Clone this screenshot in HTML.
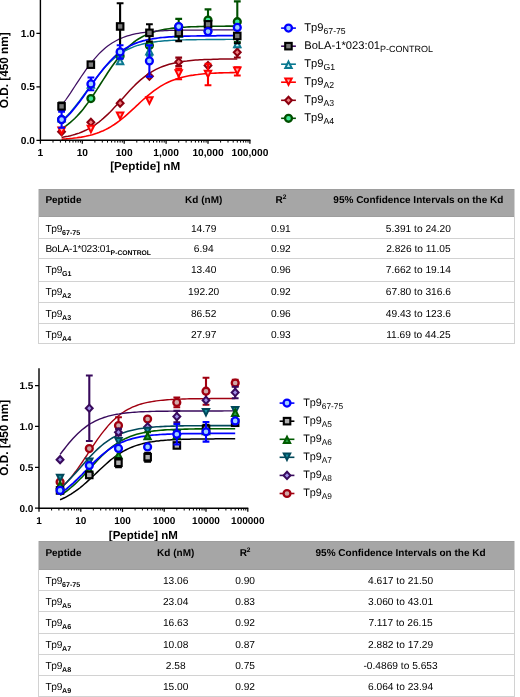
<!DOCTYPE html>
<html lang="en"><head><meta charset="utf-8"><title>Peptide binding</title>
<style>
html,body{margin:0;padding:0;background:#fff}
body{width:520px;height:697px;overflow:hidden;position:relative;text-rendering:geometricPrecision;font-family:"Liberation Sans",sans-serif;color:#000}
#fig{position:absolute;left:0;top:0;width:520px;height:697px;overflow:hidden;will-change:transform}
#fig svg{position:absolute;left:0;top:0;display:block}
.tbl{position:absolute;box-sizing:border-box}
.tbl .hd{position:absolute;left:0;top:0;right:0;background:#a6a6a6;box-shadow:inset 0 1px #9e9e9e,inset 0 -1px #9e9e9e}
.tbl .ln{position:absolute;left:0;right:0;height:1px;background:#d2d2d2}
.tbl .vl{position:absolute;top:0;bottom:0;width:1px;background:#d2d2d2}
.tbl .c{position:absolute;font-size:10.2px;line-height:14px;height:14px;white-space:nowrap}
.tbl .c.b{font-weight:bold;font-size:10px}
.tbl sub{font-size:7.1px;font-weight:bold;vertical-align:baseline;position:relative;top:3.1px;line-height:0}
.tbl sub.n{font-size:6.8px}
.tbl .c.p{letter-spacing:-0.3px}
.tbl .c.p sub{letter-spacing:0}
.tbl sup{font-size:6.6px;vertical-align:baseline;position:relative;top:-3.6px;line-height:0}
</style></head><body>
<div id="fig">
<svg width="520" height="697" viewBox="0 0 520 697" font-family="'Liberation Sans', sans-serif" fill="#000">
<g id="chart1"><polyline points="61.6,128.6 63.8,127.2 66.0,125.8 68.2,124.2 70.4,122.4 72.5,120.5 74.7,118.5 76.9,116.3 79.1,113.9 81.3,111.4 83.5,108.7 85.7,105.8 87.9,102.9 90.1,99.8 92.3,96.6 94.5,93.3 96.7,89.9 98.9,86.5 101.1,83.0 103.3,79.6 105.5,76.2 107.7,72.8 109.9,69.5 112.1,66.3 114.3,63.2 116.5,60.2 118.7,57.4 120.9,54.8 123.1,52.2 125.3,49.9 127.5,47.7 129.7,45.6 131.9,43.8 134.1,42.0 136.2,40.4 138.4,39.0 140.6,37.7 142.8,36.5 145.0,35.4 147.2,34.4 149.4,33.5 151.6,32.7 153.8,32.0 156.0,31.3 158.2,30.8 160.4,30.2 162.6,29.8 164.8,29.4 167.0,29.0 169.2,28.7 171.4,28.4 173.6,28.1 175.8,27.9 178.0,27.7 180.2,27.5 182.4,27.3 184.6,27.2 186.8,27.0 189.0,26.9 191.2,26.8 193.4,26.7 195.6,26.7 197.7,26.6 199.9,26.5 202.1,26.5 204.3,26.4 206.5,26.4 208.7,26.3 210.9,26.3 213.1,26.3 215.3,26.2 217.5,26.2 219.7,26.2 221.9,26.2 224.1,26.2 226.3,26.1 228.5,26.1 230.7,26.1 232.9,26.1 235.1,26.1 237.3,26.1" fill="none" stroke="#005000" stroke-width="1.6"/>
<polyline points="61.6,137.4 63.8,137.0 66.0,136.6 68.2,136.2 70.4,135.7 72.5,135.1 74.7,134.5 76.9,133.8 79.1,133.1 81.3,132.2 83.5,131.3 85.7,130.3 87.9,129.2 90.1,128.0 92.3,126.7 94.5,125.3 96.7,123.7 98.9,122.1 101.1,120.3 103.3,118.4 105.5,116.4 107.7,114.4 109.9,112.2 112.1,109.9 114.3,107.6 116.5,105.2 118.7,102.8 120.9,100.3 123.1,97.9 125.3,95.4 127.5,93.0 129.7,90.6 131.9,88.3 134.1,86.1 136.2,83.9 138.4,81.9 140.6,79.9 142.8,78.1 145.0,76.4 147.2,74.8 149.4,73.3 151.6,71.9 153.8,70.6 156.0,69.4 158.2,68.4 160.4,67.4 162.6,66.5 164.8,65.7 167.0,65.0 169.2,64.3 171.4,63.7 173.6,63.2 175.8,62.7 178.0,62.3 180.2,61.9 182.4,61.6 184.6,61.2 186.8,61.0 189.0,60.7 191.2,60.5 193.4,60.3 195.6,60.1 197.7,60.0 199.9,59.8 202.1,59.7 204.3,59.6 206.5,59.5 208.7,59.4 210.9,59.4 213.1,59.3 215.3,59.2 217.5,59.2 219.7,59.1 221.9,59.1 224.1,59.1 226.3,59.0 228.5,59.0 230.7,59.0 232.9,58.9 235.1,58.9 237.3,58.9" fill="none" stroke="#8c0010" stroke-width="1.5"/>
<polyline points="61.6,139.2 63.8,139.0 66.0,138.9 68.2,138.7 70.4,138.5 72.5,138.3 74.7,138.0 76.9,137.8 79.1,137.4 81.3,137.1 83.5,136.7 85.7,136.3 87.9,135.8 90.1,135.3 92.3,134.7 94.5,134.0 96.7,133.3 98.9,132.5 101.1,131.6 103.3,130.7 105.5,129.6 107.7,128.5 109.9,127.3 112.1,125.9 114.3,124.5 116.5,123.0 118.7,121.4 120.9,119.7 123.1,118.0 125.3,116.1 127.5,114.2 129.7,112.2 131.9,110.2 134.1,108.2 136.2,106.1 138.4,104.1 140.6,102.0 142.8,100.0 145.0,98.1 147.2,96.2 149.4,94.3 151.6,92.6 153.8,90.9 156.0,89.3 158.2,87.8 160.4,86.4 162.6,85.1 164.8,83.9 167.0,82.8 169.2,81.7 171.4,80.8 173.6,79.9 175.8,79.2 178.0,78.4 180.2,77.8 182.4,77.2 184.6,76.7 186.8,76.2 189.0,75.8 191.2,75.4 193.4,75.1 195.6,74.7 197.7,74.5 199.9,74.2 202.1,74.0 204.3,73.8 206.5,73.6 208.7,73.5 210.9,73.3 213.1,73.2 215.3,73.1 217.5,73.0 219.7,72.9 221.9,72.9 224.1,72.8 226.3,72.7 228.5,72.7 230.7,72.6 232.9,72.6 235.1,72.5 237.3,72.5" fill="none" stroke="#ff0000" stroke-width="1.6"/>
<polyline points="61.6,120.8 63.8,118.9 66.0,116.8 68.2,114.5 70.4,112.1 72.5,109.6 74.7,107.0 76.9,104.2 79.1,101.4 81.3,98.5 83.5,95.5 85.7,92.5 87.9,89.4 90.1,86.4 92.3,83.4 94.5,80.4 96.7,77.5 98.9,74.7 101.1,72.0 103.3,69.4 105.5,66.9 107.7,64.5 109.9,62.3 112.1,60.3 114.3,58.3 116.5,56.6 118.7,54.9 120.9,53.4 123.1,52.0 125.3,50.7 127.5,49.6 129.7,48.5 131.9,47.6 134.1,46.7 136.2,45.9 138.4,45.2 140.6,44.6 142.8,44.0 145.0,43.5 147.2,43.1 149.4,42.7 151.6,42.3 153.8,42.0 156.0,41.7 158.2,41.4 160.4,41.2 162.6,41.0 164.8,40.8 167.0,40.7 169.2,40.5 171.4,40.4 173.6,40.3 175.8,40.2 178.0,40.1 180.2,40.0 182.4,39.9 184.6,39.9 186.8,39.8 189.0,39.8 191.2,39.7 193.4,39.7 195.6,39.7 197.7,39.6 199.9,39.6 202.1,39.6 204.3,39.6 206.5,39.5 208.7,39.5 210.9,39.5 213.1,39.5 215.3,39.5 217.5,39.5 219.7,39.5 221.9,39.5 224.1,39.5 226.3,39.4 228.5,39.4 230.7,39.4 232.9,39.4 235.1,39.4 237.3,39.4" fill="none" stroke="#0a7890" stroke-width="1.4"/>
<polyline points="61.6,105.5 63.8,102.5 66.0,99.5 68.2,96.3 70.4,93.1 72.5,89.8 74.7,86.5 76.9,83.1 79.1,79.8 81.3,76.5 83.5,73.3 85.7,70.2 87.9,67.1 90.1,64.2 92.3,61.4 94.5,58.8 96.7,56.3 98.9,53.9 101.1,51.7 103.3,49.7 105.5,47.8 107.7,46.1 109.9,44.5 112.1,43.0 114.3,41.7 116.5,40.5 118.7,39.4 120.9,38.4 123.1,37.5 125.3,36.7 127.5,35.9 129.7,35.3 131.9,34.7 134.1,34.2 136.2,33.7 138.4,33.3 140.6,32.9 142.8,32.6 145.0,32.3 147.2,32.0 149.4,31.8 151.6,31.5 153.8,31.4 156.0,31.2 158.2,31.0 160.4,30.9 162.6,30.8 164.8,30.7 167.0,30.6 169.2,30.5 171.4,30.4 173.6,30.4 175.8,30.3 178.0,30.3 180.2,30.2 182.4,30.2 184.6,30.2 186.8,30.1 189.0,30.1 191.2,30.1 193.4,30.0 195.6,30.0 197.7,30.0 199.9,30.0 202.1,30.0 204.3,30.0 206.5,30.0 208.7,29.9 210.9,29.9 213.1,29.9 215.3,29.9 217.5,29.9 219.7,29.9 221.9,29.9 224.1,29.9 226.3,29.9 228.5,29.9 230.7,29.9 232.9,29.9 235.1,29.9 237.3,29.9" fill="none" stroke="#3f0f63" stroke-width="1.25"/>
<polyline points="61.6,121.7 63.8,119.8 66.0,117.7 68.2,115.5 70.4,113.1 72.5,110.6 74.7,108.0 76.9,105.2 79.1,102.4 81.3,99.4 83.5,96.4 85.7,93.3 87.9,90.1 90.1,87.0 92.3,83.8 94.5,80.7 96.7,77.6 98.9,74.6 101.1,71.7 103.3,68.9 105.5,66.3 107.7,63.7 109.9,61.3 112.1,59.0 114.3,56.9 116.5,54.9 118.7,53.1 120.9,51.4 123.1,49.9 125.3,48.5 127.5,47.2 129.7,46.0 131.9,44.9 134.1,43.9 136.2,43.1 138.4,42.3 140.6,41.6 142.8,40.9 145.0,40.4 147.2,39.8 149.4,39.4 151.6,39.0 153.8,38.6 156.0,38.3 158.2,38.0 160.4,37.7 162.6,37.5 164.8,37.3 167.0,37.1 169.2,36.9 171.4,36.8 173.6,36.7 175.8,36.6 178.0,36.5 180.2,36.4 182.4,36.3 184.6,36.2 186.8,36.1 189.0,36.1 191.2,36.0 193.4,36.0 195.6,36.0 197.7,35.9 199.9,35.9 202.1,35.9 204.3,35.8 206.5,35.8 208.7,35.8 210.9,35.8 213.1,35.8 215.3,35.8 217.5,35.7 219.7,35.7 221.9,35.7 224.1,35.7 226.3,35.7 228.5,35.7 230.7,35.7 232.9,35.7 235.1,35.7 237.3,35.7" fill="none" stroke="#0000ff" stroke-width="1.7"/>
<g><path d="M178.7 18.9V34.9M175.3 18.9H182.1M175.3 34.9H182.1" stroke="#005000" stroke-width="2.1" fill="none"/><path d="M208.0 9.4V30.8M204.6 9.4H211.4M204.6 30.8H211.4" stroke="#005000" stroke-width="2.1" fill="none"/><path d="M237.3 1.4V42.1M233.9 1.4H240.7M233.9 42.1H240.7" stroke="#005000" stroke-width="2.1" fill="none"/><circle cx="61.6" cy="119.6" r="3.45" fill="#40e898" stroke="#005000" stroke-width="2.3"/><circle cx="90.9" cy="98.6" r="3.45" fill="#40e898" stroke="#005000" stroke-width="2.3"/><circle cx="120.1" cy="56.0" r="3.45" fill="#40e898" stroke="#005000" stroke-width="2.3"/><circle cx="149.4" cy="45.6" r="3.45" fill="#40e898" stroke="#005000" stroke-width="2.3"/><circle cx="178.7" cy="26.9" r="3.45" fill="#40e898" stroke="#005000" stroke-width="2.3"/><circle cx="208.0" cy="20.1" r="3.45" fill="#40e898" stroke="#005000" stroke-width="2.3"/><circle cx="237.3" cy="21.7" r="3.45" fill="#40e898" stroke="#005000" stroke-width="2.3"/></g>
<g><path d="M178.7 57.6V66.1M175.3 57.6H182.1M175.3 66.1H182.1" stroke="#8c0010" stroke-width="2.1" fill="none"/><path d="M237.3 47.2V57.5M233.9 47.2H240.7M233.9 57.5H240.7" stroke="#8c0010" stroke-width="2.1" fill="none"/><path d="M61.6 128.1 L65.0 131.7 L61.6 135.4 L58.1 131.7 Z" fill="#f08080" stroke="#8c0010" stroke-width="2.0" stroke-linejoin="miter" stroke-miterlimit="10"/><path d="M90.9 118.7 L94.3 122.3 L90.9 126.0 L87.4 122.3 Z" fill="#f08080" stroke="#8c0010" stroke-width="2.0" stroke-linejoin="miter" stroke-miterlimit="10"/><path d="M120.1 99.5 L123.6 103.2 L120.1 106.8 L116.7 103.2 Z" fill="#f08080" stroke="#8c0010" stroke-width="2.0" stroke-linejoin="miter" stroke-miterlimit="10"/><path d="M149.4 72.6 L152.9 76.2 L149.4 79.9 L146.0 76.2 Z" fill="#f08080" stroke="#8c0010" stroke-width="2.0" stroke-linejoin="miter" stroke-miterlimit="10"/><path d="M178.7 58.2 L182.2 61.9 L178.7 65.5 L175.3 61.9 Z" fill="#f08080" stroke="#8c0010" stroke-width="2.0" stroke-linejoin="miter" stroke-miterlimit="10"/><path d="M208.0 61.9 L211.4 65.5 L208.0 69.2 L204.6 65.5 Z" fill="#f08080" stroke="#8c0010" stroke-width="2.0" stroke-linejoin="miter" stroke-miterlimit="10"/><path d="M237.3 48.7 L240.7 52.3 L237.3 56.0 L233.8 52.3 Z" fill="#f08080" stroke="#8c0010" stroke-width="2.0" stroke-linejoin="miter" stroke-miterlimit="10"/></g>
<g><path d="M178.7 68.6V79.3M175.3 68.6H182.1M175.3 79.3H182.1" stroke="#ff0000" stroke-width="2.1" fill="none"/><path d="M208.0 63.8V85.2M204.6 63.8H211.4M204.6 85.2H211.4" stroke="#ff0000" stroke-width="2.1" fill="none"/><path d="M237.3 67.3V75.5M233.9 67.3H240.7M233.9 75.5H240.7" stroke="#ff0000" stroke-width="2.1" fill="none"/><path d="M61.6 134.0 L64.8 127.6 L58.4 127.6 Z" fill="#ffb0b0" stroke="#ff0000" stroke-width="2" stroke-linejoin="miter" stroke-miterlimit="10"/><path d="M90.9 132.2 L94.1 125.8 L87.7 125.8 Z" fill="#ffb0b0" stroke="#ff0000" stroke-width="2" stroke-linejoin="miter" stroke-miterlimit="10"/><path d="M120.1 118.9 L123.3 112.5 L116.9 112.5 Z" fill="#ffb0b0" stroke="#ff0000" stroke-width="2" stroke-linejoin="miter" stroke-miterlimit="10"/><path d="M149.4 103.7 L152.6 97.3 L146.2 97.3 Z" fill="#ffb0b0" stroke="#ff0000" stroke-width="2" stroke-linejoin="miter" stroke-miterlimit="10"/><path d="M178.7 76.6 L181.9 70.2 L175.5 70.2 Z" fill="#ffb0b0" stroke="#ff0000" stroke-width="2" stroke-linejoin="miter" stroke-miterlimit="10"/><path d="M208.0 77.1 L211.2 70.7 L204.8 70.7 Z" fill="#ffb0b0" stroke="#ff0000" stroke-width="2" stroke-linejoin="miter" stroke-miterlimit="10"/><path d="M237.3 74.0 L240.5 67.6 L234.1 67.6 Z" fill="#ffb0b0" stroke="#ff0000" stroke-width="2" stroke-linejoin="miter" stroke-miterlimit="10"/></g>
<g><path d="M120.1 57.3V63.7M116.7 57.3H123.5M116.7 63.7H123.5" stroke="#0a7890" stroke-width="2.1" fill="none"/><path d="M149.4 45.9V55.6M146.0 45.9H152.8M146.0 55.6H152.8" stroke="#0a7890" stroke-width="2.1" fill="none"/><path d="M61.6 115.2 L64.8 121.6 L58.4 121.6 Z" fill="#c4ecf4" stroke="#0a7890" stroke-width="2" stroke-linejoin="miter" stroke-miterlimit="10"/><path d="M90.9 81.3 L94.1 87.7 L87.7 87.7 Z" fill="#c4ecf4" stroke="#0a7890" stroke-width="2" stroke-linejoin="miter" stroke-miterlimit="10"/><path d="M120.1 57.9 L123.3 64.3 L116.9 64.3 Z" fill="#c4ecf4" stroke="#0a7890" stroke-width="2" stroke-linejoin="miter" stroke-miterlimit="10"/><path d="M149.4 48.1 L152.6 54.5 L146.2 54.5 Z" fill="#c4ecf4" stroke="#0a7890" stroke-width="2" stroke-linejoin="miter" stroke-miterlimit="10"/><path d="M178.7 30.7 L181.9 37.1 L175.5 37.1 Z" fill="#c4ecf4" stroke="#0a7890" stroke-width="2" stroke-linejoin="miter" stroke-miterlimit="10"/><path d="M208.0 24.3 L211.2 30.7 L204.8 30.7 Z" fill="#c4ecf4" stroke="#0a7890" stroke-width="2" stroke-linejoin="miter" stroke-miterlimit="10"/><path d="M237.3 40.9 L240.5 47.3 L234.1 47.3 Z" fill="#c4ecf4" stroke="#0a7890" stroke-width="2" stroke-linejoin="miter" stroke-miterlimit="10"/></g>
<g><path d="M61.6 102.6V110.1M58.2 102.6H65.0M58.2 110.1H65.0" stroke="#000000" stroke-width="2.1" fill="none"/><path d="M120.1 3.2V49.7M116.7 3.2H123.5M116.7 49.7H123.5" stroke="#000000" stroke-width="2.1" fill="none"/><path d="M149.4 24.2V41.5M146.0 24.2H152.8M146.0 41.5H152.8" stroke="#000000" stroke-width="2.1" fill="none"/><path d="M178.7 24.8V41.1M175.3 24.8H182.1M175.3 41.1H182.1" stroke="#000000" stroke-width="2.1" fill="none"/><path d="M237.3 28.7V43.3M233.9 28.7H240.7M233.9 43.3H240.7" stroke="#000000" stroke-width="2.1" fill="none"/><rect x="58.3" y="103.1" width="6.5" height="6.5" fill="#7a7a7a" stroke="#000000" stroke-width="2.1"/><rect x="87.6" y="61.4" width="6.5" height="6.5" fill="#7a7a7a" stroke="#000000" stroke-width="2.1"/><rect x="116.9" y="23.2" width="6.5" height="6.5" fill="#7a7a7a" stroke="#000000" stroke-width="2.1"/><rect x="146.2" y="29.6" width="6.5" height="6.5" fill="#7a7a7a" stroke="#000000" stroke-width="2.1"/><rect x="175.5" y="29.7" width="6.5" height="6.5" fill="#7a7a7a" stroke="#000000" stroke-width="2.1"/><rect x="204.8" y="21.1" width="6.5" height="6.5" fill="#7a7a7a" stroke="#000000" stroke-width="2.1"/><rect x="234.0" y="32.7" width="6.5" height="6.5" fill="#7a7a7a" stroke="#000000" stroke-width="2.1"/></g>
<g><path d="M61.6 111.6V127.7M58.2 111.6H65.0M58.2 127.7H65.0" stroke="#0000ff" stroke-width="2.1" fill="none"/><path d="M90.9 77.5V90.3M87.5 77.5H94.3M87.5 90.3H94.3" stroke="#0000ff" stroke-width="2.1" fill="none"/><path d="M120.1 45.3V58.6M116.7 45.3H123.5M116.7 58.6H123.5" stroke="#0000ff" stroke-width="2.1" fill="none"/><path d="M149.4 45.2V76.6M146.0 45.2H152.8M146.0 76.6H152.8" stroke="#0000ff" stroke-width="2.1" fill="none"/><circle cx="61.6" cy="119.6" r="3.45" fill="#9fd0ff" stroke="#0000ff" stroke-width="2.3"/><circle cx="90.9" cy="83.9" r="3.45" fill="#9fd0ff" stroke="#0000ff" stroke-width="2.3"/><circle cx="120.1" cy="51.9" r="3.45" fill="#9fd0ff" stroke="#0000ff" stroke-width="2.3"/><circle cx="149.4" cy="60.9" r="3.45" fill="#9fd0ff" stroke="#0000ff" stroke-width="2.3"/><circle cx="178.7" cy="26.6" r="3.45" fill="#9fd0ff" stroke="#0000ff" stroke-width="2.3"/><circle cx="208.0" cy="31.6" r="3.45" fill="#9fd0ff" stroke="#0000ff" stroke-width="2.3"/><circle cx="237.3" cy="27.4" r="3.45" fill="#9fd0ff" stroke="#0000ff" stroke-width="2.3"/></g>
<path d="M40.4 -2.0V140.9M39.8 140.3H250.5" stroke="#000" stroke-width="1.4" fill="none"/>
<path d="M36.4 140.3H40.4M36.4 86.8H40.4M36.4 33.3H40.4M40.4 140.3V143.8M82.3 140.3V143.8M124.2 140.3V143.8M166.1 140.3V143.8M208.0 140.3V143.8M249.9 140.3V143.8" stroke="#000" stroke-width="1.25" fill="none"/>
<path d="M53.0 140.3V142.6M60.4 140.3V142.6M65.6 140.3V142.6M69.7 140.3V142.6M73.0 140.3V142.6M75.8 140.3V142.6M78.2 140.3V142.6M80.4 140.3V142.6M94.9 140.3V142.6M102.3 140.3V142.6M107.5 140.3V142.6M111.6 140.3V142.6M114.9 140.3V142.6M117.7 140.3V142.6M120.1 140.3V142.6M122.3 140.3V142.6M136.8 140.3V142.6M144.2 140.3V142.6M149.4 140.3V142.6M153.5 140.3V142.6M156.8 140.3V142.6M159.6 140.3V142.6M162.0 140.3V142.6M164.2 140.3V142.6M178.7 140.3V142.6M186.1 140.3V142.6M191.3 140.3V142.6M195.4 140.3V142.6M198.7 140.3V142.6M201.5 140.3V142.6M203.9 140.3V142.6M206.1 140.3V142.6M220.6 140.3V142.6M228.0 140.3V142.6M233.2 140.3V142.6M237.3 140.3V142.6M240.6 140.3V142.6M243.4 140.3V142.6M245.8 140.3V142.6M248.0 140.3V142.6" stroke="#000" stroke-width="1.0" fill="none"/>
<text x="34.9" y="143.8" font-size="10.2" font-weight="bold" text-anchor="end">0.0</text>
<text x="34.9" y="90.3" font-size="10.2" font-weight="bold" text-anchor="end">0.5</text>
<text x="34.9" y="36.8" font-size="10.2" font-weight="bold" text-anchor="end">1.0</text>
<text x="40.4" y="155.8" font-size="10.2" font-weight="bold" text-anchor="middle">1</text>
<text x="82.3" y="155.8" font-size="10.2" font-weight="bold" text-anchor="middle">10</text>
<text x="124.2" y="155.8" font-size="10.2" font-weight="bold" text-anchor="middle">100</text>
<text x="166.1" y="155.8" font-size="10.2" font-weight="bold" text-anchor="middle">1,000</text>
<text x="208.0" y="155.8" font-size="10.2" font-weight="bold" text-anchor="middle">10,000</text>
<text x="249.9" y="155.8" font-size="10.2" font-weight="bold" text-anchor="middle">100,000</text>
<text x="145.2" y="170.4" font-size="11.7" font-weight="bold" text-anchor="middle">[Peptide] nM</text>
<text transform="translate(8.4 70.3) rotate(-90)" font-size="11.8" font-weight="bold" text-anchor="middle">O.D. [450 nm]</text>
<path d="M281.1 28.1H295.9" stroke="#0000ff" stroke-width="1.6"/>
<circle cx="288.5" cy="28.1" r="3.45" fill="#9fd0ff" stroke="#0000ff" stroke-width="2.3"/>
<text x="304.2" y="30.8" font-size="11.2">Tp9<tspan font-size="8.7" dy="2.9">67-75</tspan></text>
<path d="M281.1 46.2H295.9" stroke="#3f0f63" stroke-width="1.6"/>
<rect x="285.2" y="42.9" width="6.5" height="6.5" fill="#7a7a7a" stroke="#000000" stroke-width="2.1"/>
<text x="304.2" y="48.9" font-size="11.2">BoLA-1*023:01<tspan font-size="9.0" dy="2.9">P-CONTROL</tspan></text>
<path d="M281.1 64.2H295.9" stroke="#0a7890" stroke-width="1.6"/>
<path d="M288.5 61.6 L291.7 68.0 L285.3 68.0 Z" fill="#c4ecf4" stroke="#0a7890" stroke-width="2" stroke-linejoin="miter" stroke-miterlimit="10"/>
<text x="304.2" y="66.9" font-size="11.2">Tp9<tspan font-size="8.7" dy="2.9">G1</tspan></text>
<path d="M281.1 82.2H295.9" stroke="#ff0000" stroke-width="1.6"/>
<path d="M288.5 84.8 L291.7 78.5 L285.3 78.5 Z" fill="#ffb0b0" stroke="#ff0000" stroke-width="2" stroke-linejoin="miter" stroke-miterlimit="10"/>
<text x="304.2" y="85.0" font-size="11.2">Tp9<tspan font-size="8.7" dy="2.9">A2</tspan></text>
<path d="M281.1 100.3H295.9" stroke="#8c0010" stroke-width="1.6"/>
<path d="M288.5 96.7 L291.9 100.3 L288.5 104.0 L285.1 100.3 Z" fill="#f08080" stroke="#8c0010" stroke-width="2.0" stroke-linejoin="miter" stroke-miterlimit="10"/>
<text x="304.2" y="103.0" font-size="11.2">Tp9<tspan font-size="8.7" dy="2.9">A3</tspan></text>
<path d="M281.1 118.3H295.9" stroke="#005000" stroke-width="1.6"/>
<circle cx="288.5" cy="118.3" r="3.45" fill="#40e898" stroke="#005000" stroke-width="2.3"/>
<text x="304.2" y="121.0" font-size="11.2">Tp9<tspan font-size="8.7" dy="2.9">A4</tspan></text></g>
<g id="chart2"><polyline points="60.1,488.9 62.3,486.9 64.5,484.8 66.7,482.5 68.8,480.0 71.0,477.4 73.2,474.6 75.4,471.8 77.6,468.8 79.8,465.7 82.0,462.5 84.2,459.2 86.4,456.0 88.5,452.6 90.7,449.3 92.9,446.1 95.1,442.8 97.3,439.7 99.5,436.6 101.7,433.7 103.9,430.9 106.1,428.2 108.2,425.6 110.4,423.2 112.6,421.0 114.8,418.9 117.0,417.0 119.2,415.2 121.4,413.5 123.6,412.0 125.7,410.7 127.9,409.4 130.1,408.3 132.3,407.2 134.5,406.3 136.7,405.5 138.9,404.7 141.1,404.0 143.3,403.4 145.4,402.9 147.6,402.4 149.8,402.0 152.0,401.6 154.2,401.2 156.4,400.9 158.6,400.6 160.8,400.4 163.0,400.2 165.1,400.0 167.3,399.8 169.5,399.6 171.7,399.5 173.9,399.4 176.1,399.3 178.3,399.2 180.5,399.1 182.7,399.0 184.8,399.0 187.0,398.9 189.2,398.8 191.4,398.8 193.6,398.7 195.8,398.7 198.0,398.7 200.2,398.7 202.4,398.6 204.5,398.6 206.7,398.6 208.9,398.6 211.1,398.5 213.3,398.5 215.5,398.5 217.7,398.5 219.9,398.5 222.1,398.5 224.2,398.5 226.4,398.5 228.6,398.5 230.8,398.5 233.0,398.5 235.2,398.5" fill="none" stroke="#a00010" stroke-width="1.4"/>
<polyline points="60.1,454.4 62.3,451.5 64.5,448.7 66.7,445.9 68.8,443.3 71.0,440.7 73.2,438.3 75.4,436.0 77.6,433.8 79.8,431.7 82.0,429.8 84.2,428.1 86.4,426.4 88.5,424.9 90.7,423.5 92.9,422.3 95.1,421.1 97.3,420.1 99.5,419.1 101.7,418.3 103.9,417.5 106.1,416.8 108.2,416.2 110.4,415.6 112.6,415.1 114.8,414.6 117.0,414.2 119.2,413.9 121.4,413.5 123.6,413.3 125.7,413.0 127.9,412.8 130.1,412.6 132.3,412.4 134.5,412.2 136.7,412.1 138.9,411.9 141.1,411.8 143.3,411.7 145.4,411.6 147.6,411.6 149.8,411.5 152.0,411.4 154.2,411.4 156.4,411.3 158.6,411.3 160.8,411.2 163.0,411.2 165.1,411.2 167.3,411.2 169.5,411.1 171.7,411.1 173.9,411.1 176.1,411.1 178.3,411.1 180.5,411.0 182.7,411.0 184.8,411.0 187.0,411.0 189.2,411.0 191.4,411.0 193.6,411.0 195.8,411.0 198.0,411.0 200.2,411.0 202.4,411.0 204.5,411.0 206.7,411.0 208.9,411.0 211.1,411.0 213.3,411.0 215.5,411.0 217.7,411.0 219.9,411.0 222.1,411.0 224.2,410.9 226.4,410.9 228.6,410.9 230.8,410.9 233.0,410.9 235.2,410.9" fill="none" stroke="#380a5c" stroke-width="1.4"/>
<polyline points="60.1,488.3 62.3,486.4 64.5,484.4 66.7,482.3 68.8,480.1 71.0,477.9 73.2,475.5 75.4,473.1 77.6,470.6 79.8,468.2 82.0,465.7 84.2,463.2 86.4,460.7 88.5,458.3 90.7,456.0 92.9,453.7 95.1,451.5 97.3,449.4 99.5,447.4 101.7,445.5 103.9,443.7 106.1,442.1 108.2,440.6 110.4,439.1 112.6,437.8 114.8,436.6 117.0,435.5 119.2,434.5 121.4,433.6 123.6,432.8 125.7,432.0 127.9,431.3 130.1,430.7 132.3,430.2 134.5,429.7 136.7,429.2 138.9,428.8 141.1,428.5 143.3,428.2 145.4,427.9 147.6,427.6 149.8,427.4 152.0,427.2 154.2,427.0 156.4,426.8 158.6,426.7 160.8,426.6 163.0,426.5 165.1,426.4 167.3,426.3 169.5,426.2 171.7,426.1 173.9,426.1 176.1,426.0 178.3,426.0 180.5,425.9 182.7,425.9 184.8,425.8 187.0,425.8 189.2,425.8 191.4,425.8 193.6,425.7 195.8,425.7 198.0,425.7 200.2,425.7 202.4,425.7 204.5,425.7 206.7,425.7 208.9,425.7 211.1,425.6 213.3,425.6 215.5,425.6 217.7,425.6 219.9,425.6 222.1,425.6 224.2,425.6 226.4,425.6 228.6,425.6 230.8,425.6 233.0,425.6 235.2,425.6" fill="none" stroke="#00485a" stroke-width="1.6"/>
<polyline points="60.1,495.4 62.3,494.0 64.5,492.6 66.7,491.0 68.8,489.3 71.0,487.5 73.2,485.6 75.4,483.6 77.6,481.5 79.8,479.3 82.0,477.1 84.2,474.8 86.4,472.4 88.5,470.0 90.7,467.6 92.9,465.2 95.1,462.9 97.3,460.5 99.5,458.2 101.7,456.0 103.9,453.9 106.1,451.9 108.2,450.0 110.4,448.1 112.6,446.4 114.8,444.8 117.0,443.3 119.2,441.9 121.4,440.6 123.6,439.5 125.7,438.4 127.9,437.4 130.1,436.5 132.3,435.7 134.5,435.0 136.7,434.3 138.9,433.7 141.1,433.2 143.3,432.7 145.4,432.3 147.6,431.9 149.8,431.5 152.0,431.2 154.2,430.9 156.4,430.7 158.6,430.5 160.8,430.3 163.0,430.1 165.1,429.9 167.3,429.8 169.5,429.7 171.7,429.6 173.9,429.5 176.1,429.4 178.3,429.3 180.5,429.2 182.7,429.2 184.8,429.1 187.0,429.1 189.2,429.0 191.4,429.0 193.6,429.0 195.8,428.9 198.0,428.9 200.2,428.9 202.4,428.9 204.5,428.8 206.7,428.8 208.9,428.8 211.1,428.8 213.3,428.8 215.5,428.8 217.7,428.8 219.9,428.8 222.1,428.7 224.2,428.7 226.4,428.7 228.6,428.7 230.8,428.7 233.0,428.7 235.2,428.7" fill="none" stroke="#005a00" stroke-width="1.6"/>
<polyline points="60.1,499.7 62.3,498.8 64.5,497.8 66.7,496.6 68.8,495.4 71.0,494.1 73.2,492.7 75.4,491.2 77.6,489.6 79.8,488.0 82.0,486.2 84.2,484.3 86.4,482.4 88.5,480.4 90.7,478.4 92.9,476.3 95.1,474.2 97.3,472.1 99.5,470.0 101.7,468.0 103.9,466.0 106.1,464.0 108.2,462.1 110.4,460.2 112.6,458.5 114.8,456.8 117.0,455.3 119.2,453.8 121.4,452.4 123.6,451.1 125.7,450.0 127.9,448.9 130.1,447.9 132.3,447.0 134.5,446.1 136.7,445.4 138.9,444.7 141.1,444.1 143.3,443.5 145.4,443.0 147.6,442.5 149.8,442.1 152.0,441.8 154.2,441.4 156.4,441.1 158.6,440.9 160.8,440.6 163.0,440.4 165.1,440.2 167.3,440.1 169.5,439.9 171.7,439.8 173.9,439.7 176.1,439.6 178.3,439.5 180.5,439.4 182.7,439.3 184.8,439.3 187.0,439.2 189.2,439.2 191.4,439.1 193.6,439.1 195.8,439.0 198.0,439.0 200.2,439.0 202.4,438.9 204.5,438.9 206.7,438.9 208.9,438.9 211.1,438.9 213.3,438.9 215.5,438.8 217.7,438.8 219.9,438.8 222.1,438.8 224.2,438.8 226.4,438.8 228.6,438.8 230.8,438.8 233.0,438.8 235.2,438.8" fill="none" stroke="#000000" stroke-width="1.5"/>
<polyline points="60.1,493.5 62.3,492.0 64.5,490.4 66.7,488.7 68.8,486.9 71.0,485.0 73.2,483.1 75.4,481.0 77.6,478.9 79.8,476.7 82.0,474.5 84.2,472.2 86.4,470.0 88.5,467.7 90.7,465.5 92.9,463.3 95.1,461.2 97.3,459.1 99.5,457.1 101.7,455.2 103.9,453.4 106.1,451.6 108.2,450.0 110.4,448.5 112.6,447.1 114.8,445.8 117.0,444.6 119.2,443.5 121.4,442.5 123.6,441.6 125.7,440.7 127.9,440.0 130.1,439.3 132.3,438.6 134.5,438.1 136.7,437.6 138.9,437.1 141.1,436.7 143.3,436.3 145.4,436.0 147.6,435.7 149.8,435.5 152.0,435.2 154.2,435.0 156.4,434.8 158.6,434.7 160.8,434.5 163.0,434.4 165.1,434.3 167.3,434.2 169.5,434.1 171.7,434.0 173.9,433.9 176.1,433.9 178.3,433.8 180.5,433.8 182.7,433.7 184.8,433.7 187.0,433.6 189.2,433.6 191.4,433.6 193.6,433.5 195.8,433.5 198.0,433.5 200.2,433.5 202.4,433.5 204.5,433.5 206.7,433.4 208.9,433.4 211.1,433.4 213.3,433.4 215.5,433.4 217.7,433.4 219.9,433.4 222.1,433.4 224.2,433.4 226.4,433.4 228.6,433.4 230.8,433.4 233.0,433.4 235.2,433.4" fill="none" stroke="#0000ff" stroke-width="1.75"/>
<g><path d="M118.5 417.3V433.7M115.1 417.3H121.9M115.1 433.7H121.9" stroke="#a00010" stroke-width="2.1" fill="none"/><path d="M176.8 397.5V407.3M173.4 397.5H180.2M173.4 407.3H180.2" stroke="#a00010" stroke-width="2.1" fill="none"/><path d="M206.0 377.7V404.7M202.6 377.7H209.4M202.6 404.7H209.4" stroke="#a00010" stroke-width="2.1" fill="none"/><path d="M235.2 379.8V386.3M231.8 379.8H238.6M231.8 386.3H238.6" stroke="#a00010" stroke-width="2.1" fill="none"/><circle cx="60.1" cy="482.0" r="3.45" fill="#d0a8a8" stroke="#a00010" stroke-width="2.3"/><circle cx="89.3" cy="448.6" r="3.45" fill="#d0a8a8" stroke="#a00010" stroke-width="2.3"/><circle cx="118.5" cy="425.5" r="3.45" fill="#d0a8a8" stroke="#a00010" stroke-width="2.3"/><circle cx="147.6" cy="419.0" r="3.45" fill="#d0a8a8" stroke="#a00010" stroke-width="2.3"/><circle cx="176.8" cy="402.4" r="3.45" fill="#d0a8a8" stroke="#a00010" stroke-width="2.3"/><circle cx="206.0" cy="391.2" r="3.45" fill="#d0a8a8" stroke="#a00010" stroke-width="2.3"/><circle cx="235.2" cy="383.0" r="3.45" fill="#d0a8a8" stroke="#a00010" stroke-width="2.3"/></g>
<g><path d="M89.3 375.5V441.0M85.9 375.5H92.7M85.9 441.0H92.7" stroke="#380a5c" stroke-width="2.1" fill="none"/><path d="M118.5 428.9V435.5M115.1 428.9H121.9M115.1 435.5H121.9" stroke="#380a5c" stroke-width="2.1" fill="none"/><path d="M176.8 410.9V422.3M173.4 410.9H180.2M173.4 422.3H180.2" stroke="#380a5c" stroke-width="2.1" fill="none"/><path d="M235.2 386.7V398.2M231.8 386.7H238.6M231.8 398.2H238.6" stroke="#380a5c" stroke-width="2.1" fill="none"/><path d="M60.1 456.0 L63.5 459.7 L60.1 463.3 L56.6 459.7 Z" fill="#a090e8" stroke="#380a5c" stroke-width="2.0" stroke-linejoin="miter" stroke-miterlimit="10"/><path d="M89.3 404.6 L92.7 408.2 L89.3 411.9 L85.8 408.2 Z" fill="#a090e8" stroke="#380a5c" stroke-width="2.0" stroke-linejoin="miter" stroke-miterlimit="10"/><path d="M118.5 428.6 L121.9 432.2 L118.5 435.9 L115.0 432.2 Z" fill="#a090e8" stroke="#380a5c" stroke-width="2.0" stroke-linejoin="miter" stroke-miterlimit="10"/><path d="M147.6 423.2 L151.1 426.9 L147.6 430.5 L144.2 426.9 Z" fill="#a090e8" stroke="#380a5c" stroke-width="2.0" stroke-linejoin="miter" stroke-miterlimit="10"/><path d="M176.8 412.9 L180.3 416.6 L176.8 420.2 L173.4 416.6 Z" fill="#a090e8" stroke="#380a5c" stroke-width="2.0" stroke-linejoin="miter" stroke-miterlimit="10"/><path d="M206.0 396.6 L209.4 400.2 L206.0 403.9 L202.6 400.2 Z" fill="#a090e8" stroke="#380a5c" stroke-width="2.0" stroke-linejoin="miter" stroke-miterlimit="10"/><path d="M235.2 388.8 L238.6 392.5 L235.2 396.1 L231.7 392.5 Z" fill="#a090e8" stroke="#380a5c" stroke-width="2.0" stroke-linejoin="miter" stroke-miterlimit="10"/></g>
<g><path d="M60.1 481.1 L63.3 474.7 L56.9 474.7 Z" fill="#1890a0" stroke="#00485a" stroke-width="2" stroke-linejoin="miter" stroke-miterlimit="10"/><path d="M89.3 464.8 L92.5 458.4 L86.1 458.4 Z" fill="#1890a0" stroke="#00485a" stroke-width="2" stroke-linejoin="miter" stroke-miterlimit="10"/><path d="M118.5 444.5 L121.7 438.1 L115.3 438.1 Z" fill="#1890a0" stroke="#00485a" stroke-width="2" stroke-linejoin="miter" stroke-miterlimit="10"/><path d="M147.6 434.1 L150.8 427.7 L144.4 427.7 Z" fill="#1890a0" stroke="#00485a" stroke-width="2" stroke-linejoin="miter" stroke-miterlimit="10"/><path d="M176.8 436.8 L180.0 430.4 L173.6 430.4 Z" fill="#1890a0" stroke="#00485a" stroke-width="2" stroke-linejoin="miter" stroke-miterlimit="10"/><path d="M206.0 415.4 L209.2 409.0 L202.8 409.0 Z" fill="#1890a0" stroke="#00485a" stroke-width="2" stroke-linejoin="miter" stroke-miterlimit="10"/><path d="M235.2 413.5 L238.4 407.1 L232.0 407.1 Z" fill="#1890a0" stroke="#00485a" stroke-width="2" stroke-linejoin="miter" stroke-miterlimit="10"/></g>
<g><path d="M147.6 432.2V438.8M144.2 432.2H151.0M144.2 438.8H151.0" stroke="#005a00" stroke-width="2.1" fill="none"/><path d="M60.1 481.9 L63.3 488.3 L56.9 488.3 Z" fill="#28a040" stroke="#005a00" stroke-width="2" stroke-linejoin="miter" stroke-miterlimit="10"/><path d="M89.3 466.6 L92.5 473.0 L86.1 473.0 Z" fill="#28a040" stroke="#005a00" stroke-width="2" stroke-linejoin="miter" stroke-miterlimit="10"/><path d="M118.5 451.9 L121.7 458.3 L115.3 458.3 Z" fill="#28a040" stroke="#005a00" stroke-width="2" stroke-linejoin="miter" stroke-miterlimit="10"/><path d="M147.6 432.9 L150.8 439.3 L144.4 439.3 Z" fill="#28a040" stroke="#005a00" stroke-width="2" stroke-linejoin="miter" stroke-miterlimit="10"/><path d="M176.8 432.0 L180.0 438.4 L173.6 438.4 Z" fill="#28a040" stroke="#005a00" stroke-width="2" stroke-linejoin="miter" stroke-miterlimit="10"/><path d="M206.0 427.9 L209.2 434.3 L202.8 434.3 Z" fill="#28a040" stroke="#005a00" stroke-width="2" stroke-linejoin="miter" stroke-miterlimit="10"/><path d="M235.2 409.5 L238.4 415.9 L232.0 415.9 Z" fill="#28a040" stroke="#005a00" stroke-width="2" stroke-linejoin="miter" stroke-miterlimit="10"/></g>
<g><path d="M118.5 458.2V467.2M115.1 458.2H121.9M115.1 467.2H121.9" stroke="#000000" stroke-width="2.1" fill="none"/><path d="M147.6 452.7V461.7M144.2 452.7H151.0M144.2 461.7H151.0" stroke="#000000" stroke-width="2.1" fill="none"/><path d="M206.0 424.8V432.9M202.6 424.8H209.4M202.6 432.9H209.4" stroke="#000000" stroke-width="2.1" fill="none"/><rect x="56.8" y="487.2" width="6.5" height="6.5" fill="#b0b0b0" stroke="#000000" stroke-width="2.1"/><rect x="86.0" y="471.7" width="6.5" height="6.5" fill="#b0b0b0" stroke="#000000" stroke-width="2.1"/><rect x="115.2" y="459.5" width="6.5" height="6.5" fill="#b0b0b0" stroke="#000000" stroke-width="2.1"/><rect x="144.4" y="453.9" width="6.5" height="6.5" fill="#b0b0b0" stroke="#000000" stroke-width="2.1"/><rect x="173.6" y="442.2" width="6.5" height="6.5" fill="#b0b0b0" stroke="#000000" stroke-width="2.1"/><rect x="202.8" y="425.6" width="6.5" height="6.5" fill="#b0b0b0" stroke="#000000" stroke-width="2.1"/><rect x="231.9" y="419.5" width="6.5" height="6.5" fill="#b0b0b0" stroke="#000000" stroke-width="2.1"/></g>
<g><path d="M176.8 424.0V444.5M173.4 424.0H180.2M173.4 444.5H180.2" stroke="#0000ff" stroke-width="2.1" fill="none"/><path d="M206.0 422.0V441.6M202.6 422.0H209.4M202.6 441.6H209.4" stroke="#0000ff" stroke-width="2.1" fill="none"/><circle cx="60.1" cy="490.4" r="3.45" fill="#9fd0ff" stroke="#0000ff" stroke-width="2.3"/><circle cx="89.3" cy="465.5" r="3.45" fill="#9fd0ff" stroke="#0000ff" stroke-width="2.3"/><circle cx="118.5" cy="448.4" r="3.45" fill="#9fd0ff" stroke="#0000ff" stroke-width="2.3"/><circle cx="147.6" cy="446.9" r="3.45" fill="#9fd0ff" stroke="#0000ff" stroke-width="2.3"/><circle cx="176.8" cy="434.3" r="3.45" fill="#9fd0ff" stroke="#0000ff" stroke-width="2.3"/><circle cx="206.0" cy="431.8" r="3.45" fill="#9fd0ff" stroke="#0000ff" stroke-width="2.3"/><circle cx="235.2" cy="420.9" r="3.45" fill="#9fd0ff" stroke="#0000ff" stroke-width="2.3"/></g>
<path d="M39.0 368.2V508.8M38.4 508.2H248.3" stroke="#000" stroke-width="1.4" fill="none"/>
<path d="M35.0 508.2H39.0M35.0 467.3H39.0M35.0 426.4H39.0M35.0 385.5H39.0M39.0 508.2V511.7M80.8 508.2V511.7M122.5 508.2V511.7M164.2 508.2V511.7M206.0 508.2V511.7M247.8 508.2V511.7" stroke="#000" stroke-width="1.25" fill="none"/>
<path d="M51.6 508.2V510.5M58.9 508.2V510.5M64.1 508.2V510.5M68.2 508.2V510.5M71.5 508.2V510.5M74.3 508.2V510.5M76.7 508.2V510.5M78.8 508.2V510.5M93.3 508.2V510.5M100.7 508.2V510.5M105.9 508.2V510.5M109.9 508.2V510.5M113.2 508.2V510.5M116.0 508.2V510.5M118.5 508.2V510.5M120.6 508.2V510.5M135.1 508.2V510.5M142.4 508.2V510.5M147.6 508.2V510.5M151.7 508.2V510.5M155.0 508.2V510.5M157.8 508.2V510.5M160.2 508.2V510.5M162.3 508.2V510.5M176.8 508.2V510.5M184.2 508.2V510.5M189.4 508.2V510.5M193.4 508.2V510.5M196.7 508.2V510.5M199.5 508.2V510.5M202.0 508.2V510.5M204.1 508.2V510.5M218.6 508.2V510.5M225.9 508.2V510.5M231.1 508.2V510.5M235.2 508.2V510.5M238.5 508.2V510.5M241.3 508.2V510.5M243.7 508.2V510.5M245.8 508.2V510.5" stroke="#000" stroke-width="1.0" fill="none"/>
<text x="33.3" y="511.7" font-size="10.0" font-weight="bold" text-anchor="end">0.0</text>
<text x="33.3" y="470.8" font-size="10.0" font-weight="bold" text-anchor="end">0.5</text>
<text x="33.3" y="429.9" font-size="10.0" font-weight="bold" text-anchor="end">1.0</text>
<text x="33.3" y="389.0" font-size="10.0" font-weight="bold" text-anchor="end">1.5</text>
<text x="39.0" y="523.6" font-size="10.0" font-weight="bold" text-anchor="middle">1</text>
<text x="80.8" y="523.6" font-size="10.0" font-weight="bold" text-anchor="middle">10</text>
<text x="122.5" y="523.6" font-size="10.0" font-weight="bold" text-anchor="middle">100</text>
<text x="164.2" y="523.6" font-size="10.0" font-weight="bold" text-anchor="middle">1000</text>
<text x="206.0" y="523.6" font-size="10.0" font-weight="bold" text-anchor="middle">10000</text>
<text x="247.8" y="523.6" font-size="10.0" font-weight="bold" text-anchor="middle">100000</text>
<text x="143.3" y="538.6" font-size="11.5" font-weight="bold" text-anchor="middle">[Peptide] nM</text>
<text transform="translate(8.4 437.8) rotate(-90)" font-size="11.8" font-weight="bold" text-anchor="middle">O.D. [450 nm]</text>
<path d="M279.6 403.1H294.4" stroke="#0000ff" stroke-width="1.6"/>
<circle cx="287.0" cy="403.1" r="3.45" fill="#9fd0ff" stroke="#0000ff" stroke-width="2.3"/>
<text x="303.2" y="405.8" font-size="10.8">Tp9<tspan font-size="8.3" dy="2.8">67-75</tspan></text>
<path d="M279.6 421.2H294.4" stroke="#000000" stroke-width="1.6"/>
<rect x="283.8" y="417.9" width="6.5" height="6.5" fill="#b0b0b0" stroke="#000000" stroke-width="2.1"/>
<text x="303.2" y="423.9" font-size="10.8">Tp9<tspan font-size="8.3" dy="2.8">A5</tspan></text>
<path d="M279.6 439.3H294.4" stroke="#005a00" stroke-width="1.6"/>
<path d="M287.0 436.7 L290.2 443.1 L283.8 443.1 Z" fill="#28a040" stroke="#005a00" stroke-width="2" stroke-linejoin="miter" stroke-miterlimit="10"/>
<text x="303.2" y="442.0" font-size="10.8">Tp9<tspan font-size="8.3" dy="2.8">A6</tspan></text>
<path d="M279.6 457.3H294.4" stroke="#00485a" stroke-width="1.6"/>
<path d="M287.0 459.9 L290.2 453.5 L283.8 453.5 Z" fill="#1890a0" stroke="#00485a" stroke-width="2" stroke-linejoin="miter" stroke-miterlimit="10"/>
<text x="303.2" y="460.0" font-size="10.8">Tp9<tspan font-size="8.3" dy="2.8">A7</tspan></text>
<path d="M279.6 475.4H294.4" stroke="#380a5c" stroke-width="1.6"/>
<path d="M287.0 471.8 L290.4 475.4 L287.0 479.1 L283.6 475.4 Z" fill="#a090e8" stroke="#380a5c" stroke-width="2.0" stroke-linejoin="miter" stroke-miterlimit="10"/>
<text x="303.2" y="478.1" font-size="10.8">Tp9<tspan font-size="8.3" dy="2.8">A8</tspan></text>
<path d="M279.6 493.5H294.4" stroke="#a00010" stroke-width="1.6"/>
<circle cx="287.0" cy="493.5" r="3.45" fill="#d0a8a8" stroke="#a00010" stroke-width="2.3"/>
<text x="303.2" y="496.2" font-size="10.8">Tp9<tspan font-size="8.3" dy="2.8">A9</tspan></text></g>
</svg>
<div class="tbl t1" style="left:38.2px;top:189.2px;width:477.2px;height:155.2px">
<div class="hd" style="height:27.4px"></div>
<div class="ln" style="top:48.5px"></div>
<div class="ln" style="top:68.8px"></div>
<div class="ln" style="top:91.4px"></div>
<div class="ln" style="top:112.9px"></div>
<div class="ln" style="top:133.8px"></div>
<div class="ln" style="top:154.1px"></div>
<div class="vl" style="left:0"></div><div class="vl" style="right:0"></div>
<div class="c b" style="top:4.80px;left:7.2px;">Peptide</div>
<div class="c b" style="top:4.80px;left:65.5px;width:200px;text-align:center;">Kd (nM)</div>
<div class="c b" style="top:4.80px;left:142.7px;width:200px;text-align:center;">R<sup>2</sup></div>
<div class="c b" style="top:4.80px;left:280.2px;width:200px;text-align:center;">95% Confidence Intervals on the Kd</div>
<div class="c p" style="top:33.80px;left:7.2px;">Tp9<sub>67-75</sub></div>
<div class="c" style="top:33.80px;left:65.5px;width:200px;text-align:center;">14.79</div>
<div class="c" style="top:33.80px;left:142.7px;width:200px;text-align:center;">0.91</div>
<div class="c" style="top:33.80px;left:280.2px;width:200px;text-align:center;">5.391 to 24.20</div>
<div class="c p" style="top:53.80px;left:7.2px;">BoLA-1*023:01<sub class="n">P-CONTROL</sub></div>
<div class="c" style="top:53.80px;left:65.5px;width:200px;text-align:center;">6.94</div>
<div class="c" style="top:53.80px;left:142.7px;width:200px;text-align:center;">0.92</div>
<div class="c" style="top:53.80px;left:280.2px;width:200px;text-align:center;">2.826 to 11.05</div>
<div class="c p" style="top:74.80px;left:7.2px;">Tp9<sub>G1</sub></div>
<div class="c" style="top:74.80px;left:65.5px;width:200px;text-align:center;">13.40</div>
<div class="c" style="top:74.80px;left:142.7px;width:200px;text-align:center;">0.96</div>
<div class="c" style="top:74.80px;left:280.2px;width:200px;text-align:center;">7.662 to 19.14</div>
<div class="c p" style="top:96.80px;left:7.2px;">Tp9<sub>A2</sub></div>
<div class="c" style="top:96.80px;left:65.5px;width:200px;text-align:center;">192.20</div>
<div class="c" style="top:96.80px;left:142.7px;width:200px;text-align:center;">0.92</div>
<div class="c" style="top:96.80px;left:280.2px;width:200px;text-align:center;">67.80 to 316.6</div>
<div class="c p" style="top:118.80px;left:7.2px;">Tp9<sub>A3</sub></div>
<div class="c" style="top:118.80px;left:65.5px;width:200px;text-align:center;">86.52</div>
<div class="c" style="top:118.80px;left:142.7px;width:200px;text-align:center;">0.96</div>
<div class="c" style="top:118.80px;left:280.2px;width:200px;text-align:center;">49.43 to 123.6</div>
<div class="c p" style="top:139.80px;left:7.2px;">Tp9<sub>A4</sub></div>
<div class="c" style="top:139.80px;left:65.5px;width:200px;text-align:center;">27.97</div>
<div class="c" style="top:139.80px;left:142.7px;width:200px;text-align:center;">0.93</div>
<div class="c" style="top:139.80px;left:280.2px;width:200px;text-align:center;">11.69 to 44.25</div>
</div>
<div class="tbl t2" style="left:38.2px;top:541.4px;width:477.2px;height:155.6px">
<div class="hd" style="height:28.3px"></div>
<div class="ln" style="top:48.6px"></div>
<div class="ln" style="top:69.3px"></div>
<div class="ln" style="top:91.3px"></div>
<div class="ln" style="top:112.5px"></div>
<div class="ln" style="top:133.6px"></div>
<div class="ln" style="top:154.5px"></div>
<div class="vl" style="left:0"></div><div class="vl" style="right:0"></div>
<div class="c b" style="top:5.60px;left:7.2px;">Peptide</div>
<div class="c b" style="top:5.60px;left:37.5px;width:200px;text-align:center;">Kd (nM)</div>
<div class="c b" style="top:5.60px;left:106.89999999999998px;width:200px;text-align:center;">R<sup>2</sup></div>
<div class="c b" style="top:5.60px;left:262.40000000000003px;width:200px;text-align:center;">95% Confidence Intervals on the Kd</div>
<div class="c p" style="top:33.60px;left:7.2px;">Tp9<sub>67-75</sub></div>
<div class="c" style="top:33.60px;left:37.5px;width:200px;text-align:center;">13.06</div>
<div class="c" style="top:33.60px;left:106.89999999999998px;width:200px;text-align:center;">0.90</div>
<div class="c" style="top:33.60px;left:262.40000000000003px;width:200px;text-align:center;">4.617 to 21.50</div>
<div class="c p" style="top:54.60px;left:7.2px;">Tp9<sub>A5</sub></div>
<div class="c" style="top:54.60px;left:37.5px;width:200px;text-align:center;">23.04</div>
<div class="c" style="top:54.60px;left:106.89999999999998px;width:200px;text-align:center;">0.83</div>
<div class="c" style="top:54.60px;left:262.40000000000003px;width:200px;text-align:center;">3.060 to 43.01</div>
<div class="c p" style="top:75.60px;left:7.2px;">Tp9<sub>A6</sub></div>
<div class="c" style="top:75.60px;left:37.5px;width:200px;text-align:center;">16.63</div>
<div class="c" style="top:75.60px;left:106.89999999999998px;width:200px;text-align:center;">0.92</div>
<div class="c" style="top:75.60px;left:262.40000000000003px;width:200px;text-align:center;">7.117 to 26.15</div>
<div class="c p" style="top:97.60px;left:7.2px;">Tp9<sub>A7</sub></div>
<div class="c" style="top:97.60px;left:37.5px;width:200px;text-align:center;">10.08</div>
<div class="c" style="top:97.60px;left:106.89999999999998px;width:200px;text-align:center;">0.87</div>
<div class="c" style="top:97.60px;left:262.40000000000003px;width:200px;text-align:center;">2.882 to 17.29</div>
<div class="c p" style="top:118.60px;left:7.2px;">Tp9<sub>A8</sub></div>
<div class="c" style="top:118.60px;left:37.5px;width:200px;text-align:center;">2.58</div>
<div class="c" style="top:118.60px;left:106.89999999999998px;width:200px;text-align:center;">0.75</div>
<div class="c" style="top:118.60px;left:262.40000000000003px;width:200px;text-align:center;">-0.4869 to 5.653</div>
<div class="c p" style="top:139.60px;left:7.2px;">Tp9<sub>A9</sub></div>
<div class="c" style="top:139.60px;left:37.5px;width:200px;text-align:center;">15.00</div>
<div class="c" style="top:139.60px;left:106.89999999999998px;width:200px;text-align:center;">0.92</div>
<div class="c" style="top:139.60px;left:262.40000000000003px;width:200px;text-align:center;">6.064 to 23.94</div>
</div>
</div>
</body></html>
